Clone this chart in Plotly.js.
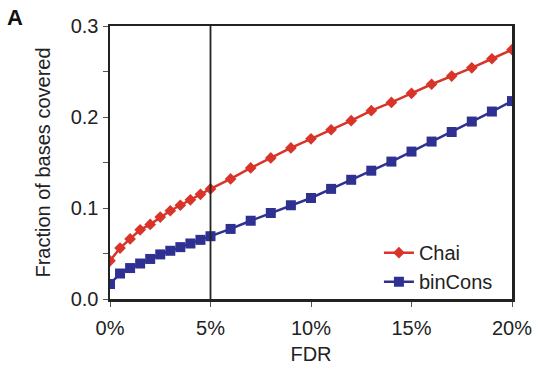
<!DOCTYPE html>
<html>
<head>
<meta charset="utf-8">
<script src="https://cdn.plot.ly/plotly-3.0.1.min.js"></script>
<style>html,body{margin:0;padding:0;background:#fff;}#chart{width:535px;height:368px;}</style>
</head>
<body>
<div id="chart"></div>
<script>
const fdr = [0,0.5,1,1.5,2,2.5,3,3.5,4,4.5,5,6,7,8,9,10,11,12,13,14,15,16,17,18,19,20];
const chai = [0.042,0.056,0.066,0.076,0.082,0.090,0.097,0.103,0.109,0.115,0.121,0.132,0.144,0.155,0.166,0.176,0.186,0.196,0.207,0.216,0.226,0.236,0.245,0.254,0.264,0.274];
const binCons = [0.0165,0.028,0.034,0.039,0.044,0.049,0.053,0.057,0.061,0.065,0.069,0.077,0.086,0.0945,0.103,0.111,0.121,0.131,0.141,0.151,0.162,0.173,0.1835,0.195,0.206,0.2175];
const xTicks = [0,5,10,15,20];
const xTickText = ['0%','5%','10%','15%','20%'];
const yTicks = [0,0.05,0.1,0.15,0.2,0.25,0.3];
const yTickText = ['0.0','','0.1','','0.2','','0.3'];
const cutoff = 5;

const font = 'Liberation Sans, Arial, sans-serif';
const traces = [
  {x: fdr, y: chai, name: 'Chai', mode: 'lines+markers',
   line: {color: '#d8342a', width: 2.5},
   marker: {symbol: 'diamond', size: 9, color: '#d8342a'}},
  {x: fdr, y: binCons, name: 'binCons', mode: 'lines+markers',
   line: {color: '#2e3192', width: 2.5},
   marker: {symbol: 'square', size: 10, color: '#2e3192'}}
];
const layout = {
  width: 535, height: 368,
  margin: {l: 110, r: 23, t: 26, b: 69},
  paper_bgcolor: '#fff', plot_bgcolor: '#fff',
  font: {family: font, color: '#222', size: 20},
  showlegend: true,
  legend: {x: 0.965, y: -0.008, xanchor: 'right', yanchor: 'bottom',
           bgcolor: 'rgba(0,0,0,0)', font: {size: 20}, itemwidth: 30, tracegroupgap: 0},
  xaxis: {range: [0, 20], tickmode: 'array', tickvals: xTicks, ticktext: xTickText, showgrid: false, zeroline: false,
          showline: true, mirror: true, linecolor: '#222', linewidth: 2.5,
          ticks: 'outside', ticklen: 5, tickcolor: '#555', tickwidth: 1, ticklabelstandoff: 4,
          title: {text: 'FDR', font: {size: 20}, standoff: 10}, tickfont: {size: 20}},
  yaxis: {range: [0, 0.3], tickmode: 'array', tickvals: yTicks, ticktext: yTickText, showgrid: false, zeroline: false,
          showline: true, mirror: true, linecolor: '#222', linewidth: 2.5,
          ticks: 'outside', ticklen: 5, tickcolor: '#555', tickwidth: 1,
          title: {text: 'Fraction of bases covered', font: {size: 20}, standoff: 15}, tickfont: {size: 20}},
  shapes: [{type: 'line', xref: 'x', yref: 'paper', x0: cutoff, x1: cutoff, y0: 0, y1: 1,
            line: {color: '#222', width: 1.8}}],
  annotations: [{text: '<b>A</b>', xref: 'paper', yref: 'paper', x: -0.236, y: 1.03,
                 xanchor: 'center', yanchor: 'middle', showarrow: false, font: {size: 22, color: '#111'}}]
};
Plotly.newPlot('chart', traces, layout, {displayModeBar: false, staticPlot: true});
</script>
</body>
</html>
